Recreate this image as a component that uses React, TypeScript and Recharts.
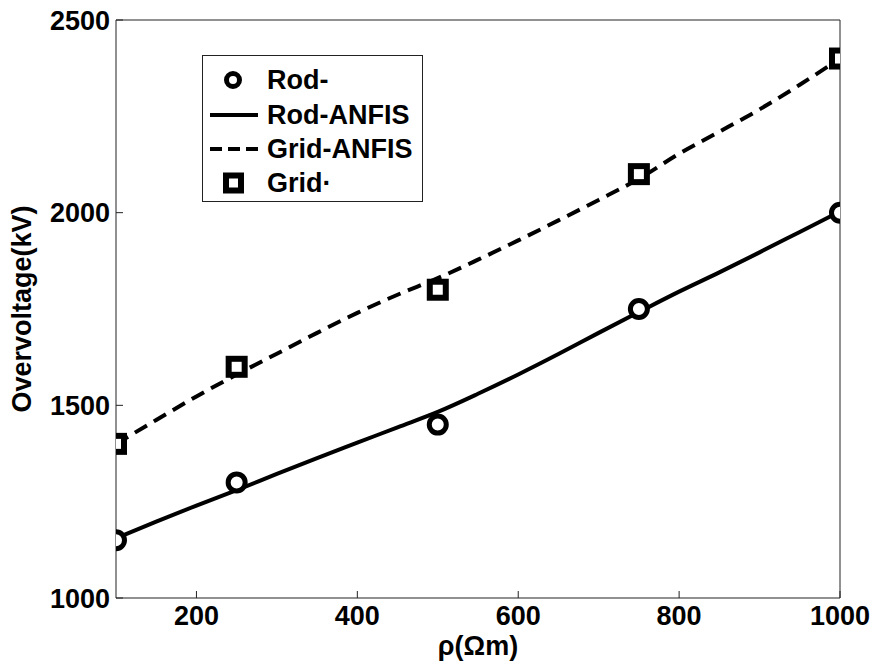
import React from "react";
import { LineChart, Line, XAxis, YAxis, Legend } from "recharts";

const measuredRho = [100, 250, 500, 750, 1000];
const rodMeasured = [1150, 1300, 1450, 1750, 2000];
const gridMeasured = [1400, 1600, 1800, 2100, 2400];

const anfisRho = [100, 150, 200, 250, 300, 350, 400, 450, 500, 550, 600, 650, 700, 750, 800, 850, 900, 950, 1000];
const rodAnfis = [1155, 1198, 1240, 1280, 1322, 1363, 1403, 1443, 1483, 1530, 1580, 1633, 1688, 1742, 1795, 1845, 1897, 1950, 2003];
const gridAnfis = [1400, 1462, 1523, 1580, 1634, 1688, 1740, 1787, 1830, 1878, 1928, 1980, 2033, 2088, 2153, 2210, 2268, 2332, 2400];

const xTicks = [200, 400, 600, 800, 1000];
const yTicks = [1000, 1500, 2000, 2500];

const legendLabels = ["Rod-", "Rod-ANFIS", "Grid-ANFIS", "Grid\u00b7"];

const toPoints = (xs: number[], ys: number[]) => xs.map((x, i) => ({ x, y: ys[i] }));

const rodMeasuredData = toPoints(measuredRho, rodMeasured);
const gridMeasuredData = toPoints(measuredRho, gridMeasured);
const rodAnfisData = toPoints(anfisRho, rodAnfis);
const gridAnfisData = toPoints(anfisRho, gridAnfis);

const FONT = "'Liberation Sans', Arial, Helvetica, sans-serif";
const AXIS_COLOR = "#222";
const TICK_LEN = 7;
const X_TICK_MARGIN = 8;
const Y_TICK_MARGIN = 6;

const CircleDot = (props: any) => {
  const { cx, cy, index } = props;
  if (cx == null || cy == null) return <g key={`c${index}`} />;
  return <circle key={`c${index}`} cx={cx} cy={cy} r={8.5} fill="#fff" stroke="#000" strokeWidth={5} />;
};

const SquareDot = (props: any) => {
  const { cx, cy, index } = props;
  if (cx == null || cy == null) return <g key={`s${index}`} />;
  return <rect key={`s${index}`} x={cx - 8} y={cy - 8} width={16} height={16} fill="#fff" stroke="#000" strokeWidth={6} />;
};

const XTick = (props: any) => {
  const { x, y, payload } = props;
  const axisY = y - X_TICK_MARGIN;
  return (
    <g>
      <line x1={x} y1={axisY} x2={x} y2={axisY - TICK_LEN} stroke={AXIS_COLOR} strokeWidth={1} />
      <text x={x} y={y} dy="0.72em" textAnchor="middle" fontFamily={FONT} fontWeight="bold" fontSize={27} fill="#000">
        {payload.value}
      </text>
    </g>
  );
};

const YTick = (props: any) => {
  const { x, y, payload } = props;
  const axisX = x + Y_TICK_MARGIN;
  return (
    <g>
      <line x1={axisX} y1={y} x2={axisX + TICK_LEN} y2={y} stroke={AXIS_COLOR} strokeWidth={1} />
      <text x={x} y={y} dy="0.36em" textAnchor="end" fontFamily={FONT} fontWeight="bold" fontSize={27} fill="#000">
        {payload.value}
      </text>
    </g>
  );
};

const YLabel = (props: any) => {
  const vb = props.viewBox || {};
  const x = (vb.x ?? 0) + 22;
  const y = (vb.y ?? 0) + (vb.height ?? 0) / 2;
  return (
    <text x={x} y={y} transform={`rotate(-90, ${x}, ${y})`} textAnchor="middle" dominantBaseline="central"
      fontFamily={FONT} fontWeight="bold" fontSize={27} fill="#000">
      Overvoltage(kV)
    </text>
  );
};

const XLabel = (props: any) => {
  const vb = props.viewBox || {};
  const x = (vb.x ?? 0) + (vb.width ?? 0) / 2;
  const y = (vb.y ?? 0) + 57;
  return (
    <text x={x} y={y} textAnchor="middle" fontFamily={FONT} fontWeight="bold" fontSize={27} fill="#000">
      ρ(Ωm)
    </text>
  );
};

const LegendBox = () => {
  const rows = [25, 60, 94, 128];
  const textStyle = { fontFamily: FONT, fontWeight: "bold" as const, fontSize: 27, fill: "#000" };
  return (
    <svg width={221} height={147} style={{ display: "block" }}>
      <rect x={0.5} y={0.5} width={220} height={146} fill="#fff" stroke={AXIS_COLOR} strokeWidth={1} />
      <circle cx={31} cy={rows[0]} r={6.5} fill="#fff" stroke="#000" strokeWidth={5} />
      <line x1={8} y1={rows[1]} x2={56} y2={rows[1]} stroke="#000" strokeWidth={4} />
      <line x1={8} y1={rows[2]} x2={56} y2={rows[2]} stroke="#000" strokeWidth={4} strokeDasharray="12 6" />
      <rect x={24} y={rows[3] - 7.5} width={15} height={15} fill="#fff" stroke="#000" strokeWidth={6} />
      {legendLabels.map((t, i) => (
        <text key={t} x={65} y={rows[i]} dominantBaseline="central" {...textStyle}>
          {t}
        </text>
      ))}
    </svg>
  );
};

export default function App() {
  return (
    <div style={{ position: "absolute", left: 0, top: 0, width: 874, height: 665, background: "#fff" }}>
      <LineChart width={874} height={665} margin={{ top: 20, right: 34, left: 0, bottom: 0 }}>
        <XAxis xAxisId="main" dataKey="x" type="number" domain={[100, 1000]} allowDataOverflow ticks={xTicks}
          orientation="bottom" height={67} tickLine={false} tickSize={0} tickMargin={X_TICK_MARGIN}
          axisLine={{ stroke: AXIS_COLOR, strokeWidth: 1 }} tick={<XTick />} label={<XLabel />} />
        <XAxis xAxisId="top" dataKey="x" type="number" domain={[100, 1000]} allowDataOverflow ticks={xTicks}
          orientation="top" mirror height={1} tick={false} tickSize={TICK_LEN}
          axisLine={{ stroke: AXIS_COLOR, strokeWidth: 1 }} tickLine={{ stroke: AXIS_COLOR, strokeWidth: 1 }} />
        <YAxis yAxisId="main" type="number" domain={[1000, 2500]} allowDataOverflow ticks={yTicks}
          orientation="left" width={116} tickLine={false} tickSize={0} tickMargin={Y_TICK_MARGIN}
          axisLine={{ stroke: AXIS_COLOR, strokeWidth: 1 }} tick={<YTick />} label={<YLabel />} />
        <YAxis yAxisId="right" type="number" domain={[1000, 2500]} allowDataOverflow ticks={yTicks}
          orientation="right" mirror width={1} tick={false} tickSize={TICK_LEN}
          axisLine={{ stroke: AXIS_COLOR, strokeWidth: 1 }} tickLine={{ stroke: AXIS_COLOR, strokeWidth: 1 }} />
        <Legend content={<LegendBox />} layout="vertical" align="center" verticalAlign="middle"
          wrapperStyle={{ position: "absolute", left: 202, top: 55, width: 221, height: 147, bottom: "auto", right: "auto", margin: 0 }} />
        <Line xAxisId="main" yAxisId="main" data={rodAnfisData} dataKey="y" name="Rod-ANFIS" type="monotone"
          stroke="#000" strokeWidth={4} dot={false} activeDot={false} isAnimationActive={false} />
        <Line xAxisId="main" yAxisId="main" data={gridAnfisData} dataKey="y" name="Grid-ANFIS" type="monotone"
          stroke="#000" strokeWidth={4} strokeDasharray="14 8" dot={false} activeDot={false} isAnimationActive={false} />
        <Line xAxisId="main" yAxisId="main" data={rodMeasuredData} dataKey="y" name="Rod-" type="linear"
          stroke="none" strokeWidth={0} dot={<CircleDot />} activeDot={false} isAnimationActive={false} />
        <Line xAxisId="main" yAxisId="main" data={gridMeasuredData} dataKey="y" name="Grid" type="linear"
          stroke="none" strokeWidth={0} dot={<SquareDot />} activeDot={false} isAnimationActive={false} />
      </LineChart>
    </div>
  );
}
